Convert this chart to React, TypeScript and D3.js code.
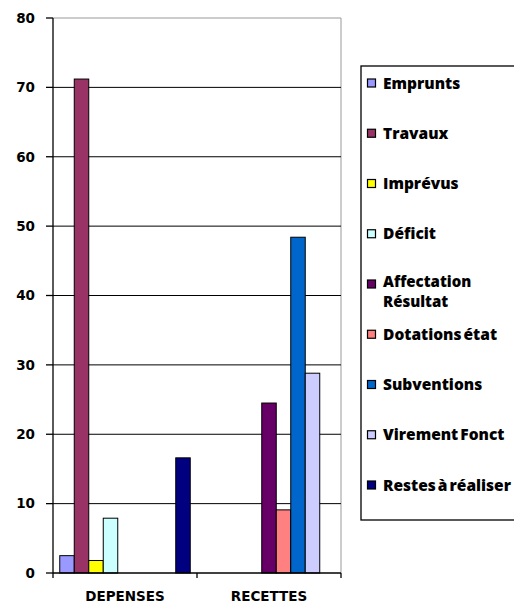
import React from "react";
import * as d3 from "d3";

const categories = ["DEPENSES", "RECETTES"];
const seriesNames = [
  "Emprunts",
  "Travaux",
  "Imprévus",
  "Déficit",
  "Affectation Résultat",
  "Dotations état",
  "Subventions",
  "Virement Fonct",
  "Restes à réaliser",
];
const seriesColors = [
  "#9999FF",
  "#993366",
  "#FFFF00",
  "#CCFFFF",
  "#660066",
  "#FF8080",
  "#0066CC",
  "#CCCCFF",
  "#000080",
];
const depensesValues: (number | null)[] = [2.5, 71.2, 1.8, 7.9, null, null, null, null, 16.6];
const recettesValues: (number | null)[] = [null, null, null, null, 24.5, 9.1, 48.4, 28.8, null];
const yTicks = [0, 10, 20, 30, 40, 50, 60, 70, 80];

const W = 514;
const H = 604;
const plot = { left: 53, right: 341, top: 18, bottom: 573 };

export default function App() {
  const y = d3.scaleLinear().domain([0, 80]).range([plot.bottom, plot.top]);
  const x = d3.scaleBand<string>().domain(categories).range([plot.left, plot.right]);
  const xi = d3
    .scaleBand<string>()
    .domain(seriesNames)
    .range([0, x.bandwidth()])
    .paddingInner(0)
    .paddingOuter(0.466);
  const valuesByCat = [depensesValues, recettesValues];
  const legendY = d3.scaleLinear().domain([0, 8]).range([83, 485]);
  const axisFont = "'DejaVu Sans', Verdana, sans-serif";
  const legendFont = "'Open Sans', sans-serif";

  return (
    <div style={{ position: "absolute", left: 0, top: 0 }}>
      <svg width={W} height={H} style={{ display: "block", background: "#fff" }}>
        <line x1={plot.left} x2={plot.right} y1={plot.top} y2={plot.top} stroke="#999" strokeWidth={1} />
        <line x1={plot.right} x2={plot.right} y1={plot.top} y2={plot.bottom} stroke="#999" strokeWidth={1} />
        {yTicks
          .filter((t) => t > 0 && t < 80)
          .map((t) => (
            <line key={"g" + t} x1={plot.left} x2={plot.right} y1={y(t)} y2={y(t)} stroke="#000" strokeWidth={1} />
          ))}
        {categories.map((c, ci) =>
          seriesNames.map((s, si) => {
            const v = valuesByCat[ci][si];
            if (v == null) return null;
            const bx = (x(c) as number) + (xi(s) as number);
            return (
              <rect
                key={c + s}
                x={bx}
                y={y(v)}
                width={xi.bandwidth()}
                height={y(0) - y(v)}
                fill={seriesColors[si]}
                stroke="#000"
                strokeWidth={1}
              />
            );
          })
        )}
        <line x1={plot.left} x2={plot.left} y1={plot.top} y2={plot.bottom} stroke="#000" strokeWidth={1.3} />
        {yTicks.map((t) => (
          <g key={"t" + t}>
            <line x1={plot.left - 7} x2={plot.left} y1={y(t)} y2={y(t)} stroke="#000" strokeWidth={1.3} />
            <text
              x={35}
              y={y(t)}
              dy="0.36em"
              textAnchor="end"
              fontFamily={axisFont}
              fontWeight="bold"
              fontSize={13.5}
              fill="#000"
            >
              {t}
            </text>
          </g>
        ))}
        <line x1={plot.left} x2={plot.right} y1={plot.bottom} y2={plot.bottom} stroke="#000" strokeWidth={1.3} />
        {[plot.left, ...categories.map((c) => (x(c) as number) + x.bandwidth())].map((tx, i) => (
          <line key={"xt" + i} x1={tx} x2={tx} y1={plot.bottom} y2={plot.bottom + 5} stroke="#000" strokeWidth={1.3} />
        ))}
        {categories.map((c) => (
          <text
            key={"c" + c}
            x={(x(c) as number) + x.bandwidth() / 2}
            y={601}
            textAnchor="middle"
            fontFamily={axisFont}
            fontWeight="bold"
            fontSize={13.5}
            fill="#000"
          >
            {c}
          </text>
        ))}
        <rect x={361} y={66} width={170} height={454} fill="#fff" stroke="#000" strokeWidth={1.3} />
        {seriesNames.map((s, i) => {
          const ly = legendY(i);
          const lines = s === "Affectation Résultat" ? ["Affectation", "Résultat"] : [s];
          const multi = lines.length > 1;
          return (
            <g key={"l" + s}>
              <rect x={367.5} y={ly - 4} width={8} height={8} fill={seriesColors[i]} stroke="#000" strokeWidth={1.2} />
              {lines.map((ln, li) => (
                <text
                  key={ln}
                  x={383}
                  y={ly - (multi ? 2.5 : 0) + li * 20.5}
                  dy="0.36em"
                  fontFamily={legendFont}
                  fontWeight={800}
                  fontSize={multi ? 15 : 15.5}
                  wordSpacing={-2}
                  fill="#000"
                >
                  {ln}
                </text>
              ))}
            </g>
          );
        })}
      </svg>
    </div>
  );
}
